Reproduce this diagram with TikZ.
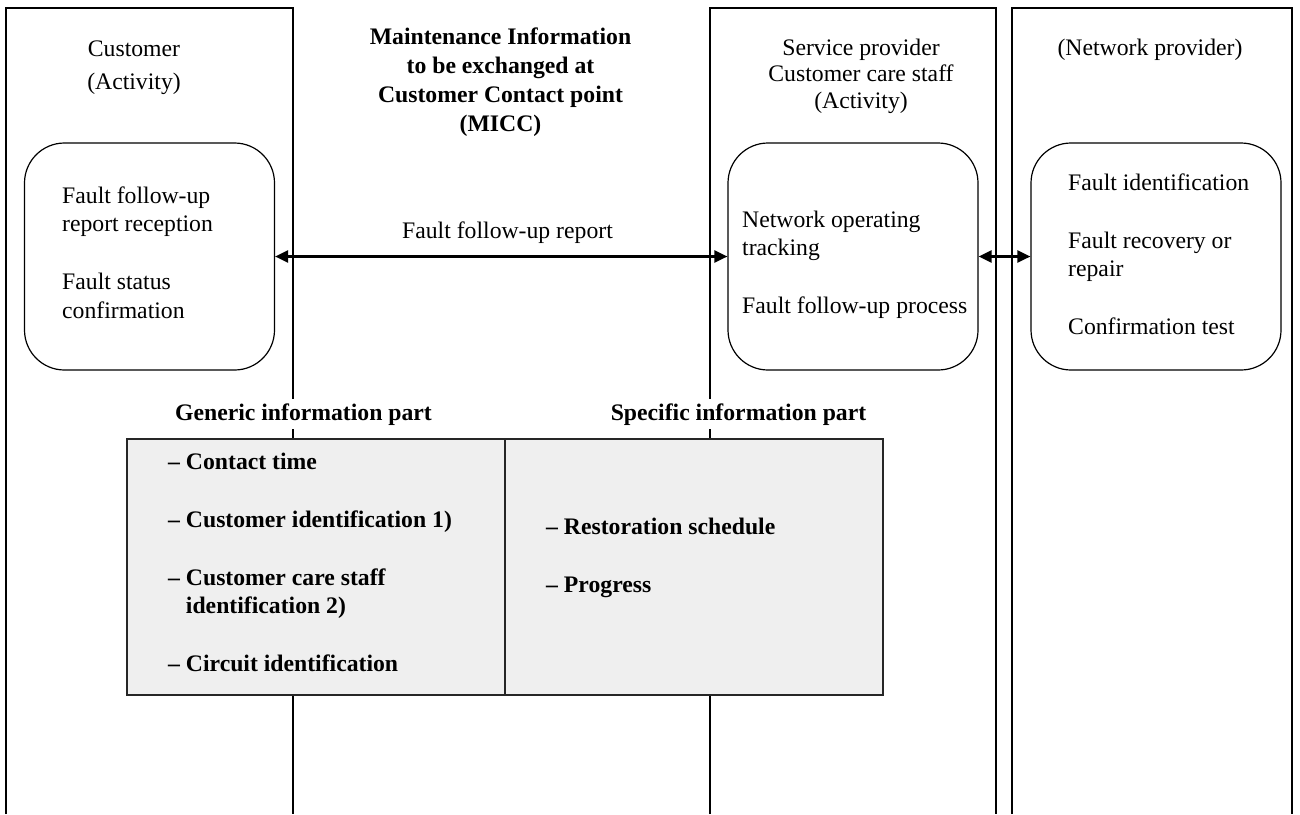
\documentclass[tikz,border=0pt]{standalone}
\usepackage{fontspec}
\setmainfont{Liberation Serif}
\usetikzlibrary{arrows.meta}
\definecolor{tablegray}{HTML}{EFEFEF}
\begin{document}
\begin{tikzpicture}[x=1pt,y=-1pt,
  lane/.style={draw=black,line width=1.1pt},
  rbox/.style={draw=black,line width=1.2pt,rounded corners=40pt,minimum width=250pt,minimum height=227pt,inner sep=0pt},
  txt/.style={font=\fontsize{23.7}{28.5}\selectfont,inner sep=0pt,align=left,anchor=north west},
  hdr/.style={font=\fontsize{23.7}{26.5}\selectfont,inner sep=0pt,align=center,anchor=north},
  ttl/.style={font=\fontsize{23.7}{29}\selectfont\bfseries,inner sep=0pt,align=center,anchor=north},
  part/.style={font=\fontsize{23.7}{28.5}\selectfont\bfseries,fill=white,inner xsep=0pt,inner ysep=4pt,anchor=base},
  lbl/.style={font=\fontsize{23.7}{28.5}\selectfont,inner sep=0pt,anchor=base},
  tbl/.style={draw=black!85,line width=1.4pt,fill=tablegray,minimum width=378pt,minimum height=256pt,inner sep=0pt},
  item/.style={font=\fontsize{23.7}{28.5}\selectfont\bfseries,inner sep=0pt,align=left,anchor=north west},
  arr/.style={line width=2.2pt,{Triangle[length=13pt,width=12pt]}-{Triangle[length=13pt,width=12pt]}}]
\useasboundingbox (0,0) rectangle (1300,814);
% swim lanes
\draw[lane] (6,814) -- (6,8) -- (293,8) -- (293,814);
\draw[lane] (710,814) -- (710,8) -- (996,8) -- (996,814);
\draw[lane] (1012,814) -- (1012,8) -- (1292,8) -- (1292,814);
% headers
\node[hdr,font=\fontsize{23.7}{33}\selectfont] (custhdr) at (134,33.5) {\strut Customer\\(Activity)};
\node[hdr] (svchdr) at (861,36.5) {\strut Service provider\\Customer care staff\\(Activity)};
\node[hdr] (nethdr) at (1150,37) {\strut (Network provider)};
\node[ttl] (title) at (500.5,24.2) {\strut Maintenance Information\\to be exchanged at\\Customer Contact point\\(MICC)};
% activity boxes
\node[rbox] (cbox) at (149.5,256.5) {};
\node[rbox] (sbox) at (853,256.5) {};
\node[rbox] (nbox) at (1156,256.5) {};
\node[txt] (ctext) at (62,183.05) {\strut Fault follow-up\\report reception\\[29.5pt]Fault status\\confirmation};
\node[txt] (stext) at (742,207.05) {\strut Network operating\\tracking\\[29.5pt]Fault follow-up process};
\node[txt] (ntext) at (1068,170.05) {\strut Fault identification\\[29.5pt]Fault recovery or\\repair\\[29.5pt]Confirmation test};
% connectors
\draw[arr] (cbox.east) -- (sbox.west);
\draw[arr] (sbox.east) -- (nbox.west);
\node[lbl] (arrlbl) at (507.5,238) {Fault follow-up report};
% information parts
\node[part] (genhdr) at (303.5,420) {Generic information part};
\node[part] (spechdr) at (738.5,420) {Specific information part};
\node[tbl] (gen) at (316,567) {};
\node[tbl] (spec) at (694,567) {};
\node[item] (genitems) at (168,449.05) {\strut \textendash{} Contact time\\[29.5pt]\textendash{} Customer identification 1)\\[29.5pt]\textendash{} Customer care staff\\\phantom{\textendash{} }identification 2)\\[29.5pt]\textendash{} Circuit identification};
\node[item] (specitems) at (546,514.05) {\strut \textendash{} Restoration schedule\\[29.5pt]\textendash{} Progress};
\end{tikzpicture}
\end{document}
